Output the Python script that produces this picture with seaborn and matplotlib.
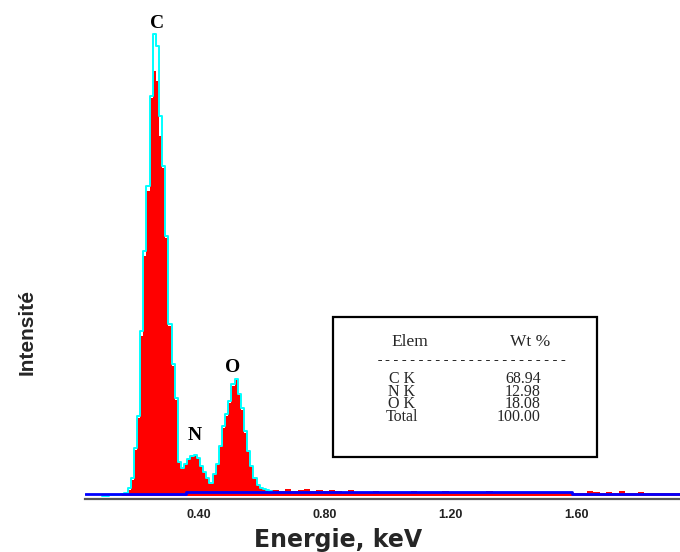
import numpy as np
import pandas as pd
import matplotlib
matplotlib.use("Agg")
import matplotlib.pyplot as plt
from matplotlib.patches import Rectangle
import seaborn as sns

# Spectre EDS : canaux de 0.01 keV autour des pics, 0.02 keV dans la queue
main_energy = np.round(np.arange(0.10, 0.635, 0.01), 2)
main_counts = [1, 1, 2, 1, 2, 1, 2, 3, 6, 16,
               46, 78, 160, 240, 305, 398, 425, 415, 360, 328,
               258, 170, 130, 96, 33, 27, 31, 36, 39, 40,
               37, 29, 23, 17, 12, 21, 31, 49, 68, 80,
               93, 110, 116, 101, 86, 63, 44, 29, 17, 10,
               8, 7, 6, 6]
# contour cyan (spectre superposé)
outline_counts = [0, 0, 1, 1, 1, 1, 2, 3, 8, 18,
                  48, 80, 165, 245, 310, 400, 462, 450, 380, 330,
                  260, 172, 132, 98, 34, 28, 32, 37, 40, 41,
                  38, 30, 24, 18, 13, 22, 32, 50, 70, 82,
                  95, 112, 117, 102, 88, 65, 45, 30, 18, 11,
                  8, 7, 6, 5]
tail_energy = np.round(np.arange(0.645, 1.93, 0.02), 3)
tail_counts = [6, 5, 7, 5, 6, 7, 5, 6, 5, 6,
               5, 4, 6, 3, 4, 3, 5, 4, 3, 3,
               4, 3, 5, 3, 4, 3, 3, 5, 4, 3,
               3, 3, 4, 3, 5, 4, 3, 3, 4, 3,
               4, 3, 3, 4, 3, 3, 3, 3, 3, 3,
               5, 4, 3, 4, 3, 5, 3, 3, 4, 3,
               3, 3, 3, 3, 3]
# fond continu (ligne bleue)
bg_energy = [0.04, 0.362, 1.587, 1.93]
bg_level = [2.5, 4, 2.5, 2.5]

peak_names = ["C", "N", "O"]
peak_energy = [0.27, 0.39, 0.508]
peak_height = [472, 60, 129]

tick_values = [0.4, 0.8, 1.2, 1.6]
tick_labels = ["0.40", "0.80", "1.20", "1.60"]

elements = ["C K", "N K", "O K", "Total"]
wt_percent = ["68.94", "12.98", "18.08", "100.00"]

sns.set_theme(style="white")
plt.rcParams["font.family"] = ["Liberation Sans", "DejaVu Sans"]

fig = plt.figure(figsize=(6.8, 5.52), dpi=100)
ax = fig.add_axes([85 / 680, 53 / 552, 595 / 680, 491 / 552])

main_edges = [float(v) for v in np.round(np.arange(0.095, 0.64, 0.01), 3)]
tail_edges = [float(v) for v in np.round(np.arange(0.655, 1.94, 0.02), 3)]
spectrum = pd.DataFrame({"energy": np.concatenate([main_energy, tail_energy]),
                         "counts": np.array(main_counts + tail_counts, dtype=float)})
outline = pd.DataFrame({"energy": main_energy, "counts": np.array(outline_counts, dtype=float)})

sns.histplot(data=spectrum, x="energy", weights="counts", bins=main_edges + tail_edges,
             element="step", fill=True, color="#ff0000", alpha=1, linewidth=0, ax=ax, zorder=2)
sns.histplot(data=outline, x="energy", weights="counts", bins=main_edges,
             element="step", fill=False, color="#00ffff", linewidth=1.4, ax=ax, zorder=3)
ax.plot(bg_energy, bg_level, drawstyle="steps-post", color="#0000ff", lw=2, zorder=4)

for name, e, h in zip(peak_names, peak_energy, peak_height):
    ax.text(e, h, name, ha="center", va="center", fontsize=14, fontweight="bold",
            family=["Liberation Serif", "DejaVu Serif"], color="black")

ax.set_xlim(0.04, 1.93)
ax.set_ylim(-3, 488)
ax.set_xticks(tick_values)
ax.set_xticklabels(tick_labels)
ax.set_yticks([])
ax.set_xlabel("")
ax.set_ylabel("")
for side in ["top", "right", "left"]:
    ax.spines[side].set_visible(False)
ax.spines["bottom"].set_color("#555555")
ax.spines["bottom"].set_linewidth(1.6)
ax.tick_params(axis="x", direction="inout", length=5, width=1.2, color="black",
               pad=5, labelsize=9, labelcolor="#222222")
for lab in ax.get_xticklabels():
    lab.set_fontweight("bold")

fig.text(338 / 680, 1 - 540 / 552, "Energie, keV", ha="center", va="center",
         fontsize=17, fontweight="bold", family=["DejaVu Sans"])
fig.text(27 / 680, 1 - 332 / 552, "Intensité", ha="center", va="center", rotation=90,
         fontsize=15, fontweight="bold", family=["Liberation Sans Narrow", "Liberation Sans"])

# cadre du tableau de composition
fig.add_artist(Rectangle((333 / 680, 1 - 457 / 552), 264 / 680, 140 / 552,
                         transform=fig.transFigure, fill=False, edgecolor="black", lw=1.6))
serif = ["Liberation Serif", "DejaVu Serif"]
fig.text(410 / 680, 1 - 342 / 552, "Elem", ha="center", va="center", fontsize=12.5, family=serif)
fig.text(530 / 680, 1 - 342 / 552, "Wt %", ha="center", va="center", fontsize=12.5, family=serif)
fig.text(472 / 680, 1 - 360 / 552, "-" * 23, ha="center", va="center", fontsize=10,
         family=["Liberation Mono", "DejaVu Sans Mono"])
fig.text(402 / 680, 1 - 398 / 552, "\n".join(elements), ha="center", va="center",
         multialignment="center", fontsize=11.5, linespacing=0.72, family=serif)
fig.text(541 / 680, 1 - 398 / 552, "\n".join(wt_percent), ha="right", va="center",
         multialignment="right", fontsize=11.5, linespacing=0.72, family=serif)

fig.savefig("out.png", dpi=100, facecolor="white")
